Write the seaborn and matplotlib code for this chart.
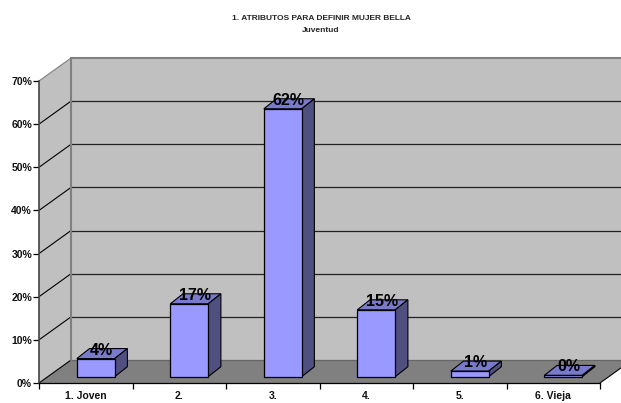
import matplotlib
matplotlib.use("Agg")
import matplotlib.pyplot as plt
import seaborn as sns
import pandas as pd
from matplotlib.patches import Polygon

categories = ["1. Joven", "2.", "3.", "4.", "5.", "6. Vieja"]
values = [4.2, 16.9, 62.1, 15.5, 1.3, 0.3]
labels = ["4%", "17%", "62%", "15%", "1%", "0%"]
yticks = [0, 10, 20, 30, 40, 50, 60, 70]
title = "1. ATRIBUTOS PARA DEFINIR MUJER BELLA"
subtitle = "Juventud"

WALL, FLOOR = "#C0C0C0", "#808080"
FRONT, TOP, SIDE = "#9999FF", "#7A7ACC", "#4F4F80"
W, H = 621, 403

sns.set_theme(style="white")
plt.rcParams["font.family"] = ["Liberation Sans", "DejaVu Sans"]

fig = plt.figure(figsize=(W / 100, H / 100), dpi=100, facecolor="white")
L, R, B, T = 39, 600, 383, 81
ax = fig.add_axes([L / W, 1 - B / H, (R - L) / W, (B - T) / H])
ax.patch.set_alpha(0)

df = pd.DataFrame({"cat": categories, "val": values})
sns.barplot(data=df, x="cat", y="val", color=FRONT, saturation=1, width=0.405,
            edgecolor="black", linewidth=0.9, ax=ax, zorder=5)
ax.set_xlim(-0.5, 5.5)
ax.set_ylim(0, 70)
ax.set_xlabel("")
ax.set_ylabel("")

px = (R - L) / 6      # pixels per category
py = (B - T) / 70     # pixels per percent
wdx, wdy = 32 / px, 23 / py      # wall depth in data units
bdx, bdy = 12.7 / px, 10 / py    # bar depth in data units
sx, sy = 10 / px, 6.3 / py       # bar shift from the front edge

x0, x1 = -0.5, 5.5
def poly(pts, fc, ec="none", lw=0, z=1):
    ax.add_patch(Polygon(pts, closed=True, facecolor=fc, edgecolor=ec, linewidth=lw,
                         zorder=z, clip_on=False))

# walls and floor
poly([(x0, 0), (x0 + wdx, wdy), (x0 + wdx, 70 + wdy), (x0, 70)], WALL)
poly([(x0 + wdx, wdy), (x1 + wdx, wdy), (x1 + wdx, 70 + wdy), (x0 + wdx, 70 + wdy)], WALL)
poly([(x0, 0), (x1, 0), (x1 + wdx, wdy), (x0 + wdx, wdy)], FLOOR)

for t in yticks:
    ax.plot([x0, x0 + wdx], [t, t + wdy], color="#808080" if t == 70 else "black",
            lw=0.8, zorder=2, clip_on=False)
    gc = "#808080" if t == 70 else ("#666666" if t == 0 else "#222222")
    ax.plot([x0 + wdx, x1 + wdx], [t + wdy, t + wdy], color=gc,
            lw=1.5 if t == 70 else 0.9, zorder=2, clip_on=False)
ax.plot([x0 + wdx, x0 + wdx], [wdy, 70 + wdy], color="#808080", lw=1.5, zorder=2, clip_on=False)
ax.plot([x1, x1 + wdx], [0, wdy], color="black", lw=0.8, zorder=2, clip_on=False)

# 3D bars: shift the library's bars and add their top and side faces
for p, v, lab in zip(ax.patches, values, labels):
    p.set_x(p.get_x() + sx)
    p.set_y(sy)
    p.set_clip_on(False)
    a, b = p.get_x(), p.get_x() + p.get_width()
    y0, y1 = sy, sy + v
    poly([(a, y1), (b, y1), (b + bdx, y1 + bdy), (a + bdx, y1 + bdy)], TOP, "black", 0.8, 4)
    poly([(b, y0), (b + bdx, y0 + bdy), (b + bdx, y1 + bdy), (b, y1)], SIDE, "black", 0.8, 4)
    ax.text((a + b) / 2 + 6 / px, y1 + 8.5 / py, lab, ha="center", va="center",
            fontsize=11.5, fontweight="bold", color="black", zorder=6, clip_on=False)

for s in ("top", "right"):
    ax.spines[s].set_visible(False)
ax.spines["left"].set_color("#444444")
ax.spines["left"].set_linewidth(1.2)
ax.spines["bottom"].set_color("black")
ax.spines["bottom"].set_linewidth(0.9)
ax.spines["left"].set_zorder(3)
ax.spines["bottom"].set_zorder(3)

ax.set_yticks(yticks)
ax.set_yticklabels([f"{t}%" for t in yticks], fontsize=7.5, fontweight="bold", color="#111111")
ax.set_xticks([i - 0.5 for i in range(7)], minor=True)
ax.set_xticks(range(6))
ax.set_xticklabels(categories, fontsize=7.5, fontweight="bold", color="#111111")
ax.tick_params(axis="x", which="major", length=0, pad=5.5)
ax.tick_params(axis="x", which="minor", length=4, width=0.9, color="black", bottom=True)
ax.tick_params(axis="y", length=4, width=0.9, color="black", pad=1, left=True)

fig.text(321 / W, 1 - 18 / H, title, ha="center", va="center", fontsize=6, fontweight="bold")
fig.text(321 / W, 1 - 30 / H, subtitle, ha="center", va="center", fontsize=6, fontweight="bold")

fig.savefig("out.png", dpi=100, facecolor="white")
